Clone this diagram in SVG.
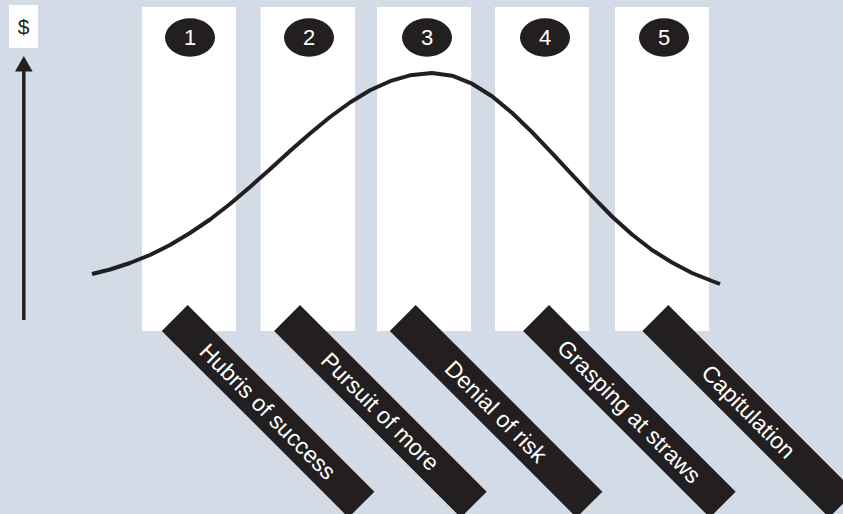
<svg xmlns="http://www.w3.org/2000/svg" width="843" height="514" viewBox="0 0 843 514">
  <style>
    .col { fill: #ffffff; }
    .badge { fill: #231f20; }
    .num { fill: #ffffff; font-family: "Liberation Sans", Arial, sans-serif; font-size: 22px; text-anchor: middle; }
    .bar { fill: #231f20; }
    .lbl { fill: #ffffff; font-family: "Liberation Sans", Arial, sans-serif; font-size: 23px; text-anchor: middle; }
    .curve { fill: none; stroke: #231f20; stroke-width: 4; stroke-linejoin: round; stroke-linecap: butt; }
    .axis { fill: none; stroke: #231f20; stroke-width: 3.5; }
    .head { fill: #231f20; }
  </style>

  <rect width="843" height="514" fill="#d2dbe6"/>

  <!-- value axis label -->
  <g id="axis-label">
    <rect x="9" y="5" width="29" height="43" fill="#ffffff"/>
    <text x="23.5" y="34" font-family="Liberation Sans, Arial, sans-serif" font-size="21" fill="#231f20" text-anchor="middle">$</text>
  </g>

  <!-- stage columns -->
  <g id="stage-1">
    <rect class="col" x="142" y="7" width="94" height="324"/>
    <ellipse class="badge" cx="190" cy="37.5" rx="25" ry="19.2"/>
    <text class="num" x="190" y="45">1</text>
  </g>
  <g id="stage-2">
    <rect class="col" x="260.5" y="7" width="94.5" height="324"/>
    <ellipse class="badge" cx="309" cy="37.5" rx="25" ry="19.2"/>
    <text class="num" x="309" y="45">2</text>
  </g>
  <g id="stage-3">
    <rect class="col" x="377" y="7" width="94" height="324"/>
    <ellipse class="badge" cx="427" cy="37.5" rx="25" ry="19.2"/>
    <text class="num" x="427" y="45">3</text>
  </g>
  <g id="stage-4">
    <rect class="col" x="495" y="7" width="94" height="324"/>
    <ellipse class="badge" cx="545" cy="37.5" rx="25" ry="19.2"/>
    <text class="num" x="545" y="45">4</text>
  </g>
  <g id="stage-5">
    <rect class="col" x="615" y="7" width="94" height="324"/>
    <ellipse class="badge" cx="664" cy="37.5" rx="25" ry="19.2"/>
    <text class="num" x="664" y="45">5</text>
  </g>

  <!-- diagonal stage labels -->
  <g id="label-1" transform="translate(187.7,305) rotate(45)">
    <rect class="bar" x="0" y="0" width="264" height="36.6"/>
    <text class="lbl" x="132" y="26.5">Hubris of success</text>
  </g>
  <g id="label-2" transform="translate(300,305) rotate(45)">
    <rect class="bar" x="0" y="0" width="264" height="36.6"/>
    <text class="lbl" x="132" y="26.5">Pursuit of more</text>
  </g>
  <g id="label-3" transform="translate(415.7,305) rotate(45)">
    <rect class="bar" x="0" y="0" width="264" height="36.6"/>
    <text class="lbl" x="132" y="26.5">Denial of risk</text>
  </g>
  <g id="label-4" transform="translate(549,305) rotate(45)">
    <rect class="bar" x="0" y="0" width="264" height="36.6"/>
    <text class="lbl" x="132" y="26.5">Grasping at straws</text>
  </g>
  <g id="label-5" transform="translate(668.3,305) rotate(45)">
    <rect class="bar" x="0" y="0" width="264" height="36.6"/>
    <text class="lbl" x="132" y="26.5">Capitulation</text>
  </g>

  <!-- connectors: value axis arrow and rise-and-fall curve -->
  <g id="connectors">
    <line class="axis" x1="23.8" y1="320" x2="23.8" y2="70"/>
    <polygon class="head" points="23.8,56 15,71.5 32.6,71.5"/>
    <polyline class="curve" points="92,274 110,269.5 130,263 150,255 170,245 190,233 210,219.5 230,204 250,187 270,169.2 290,151 310,133.5 330,117 350,102.5 370,90.3 390,81.2 410,75.3 432,73 452,75.7 472,83.7 492,96.3 512,112.8 532,132.1 552,153.1 572,174.6 592,196 612,216.5 632,234.5 652,250 672,262.5 692,273 712,281 720,284"/>
  </g>
</svg>
